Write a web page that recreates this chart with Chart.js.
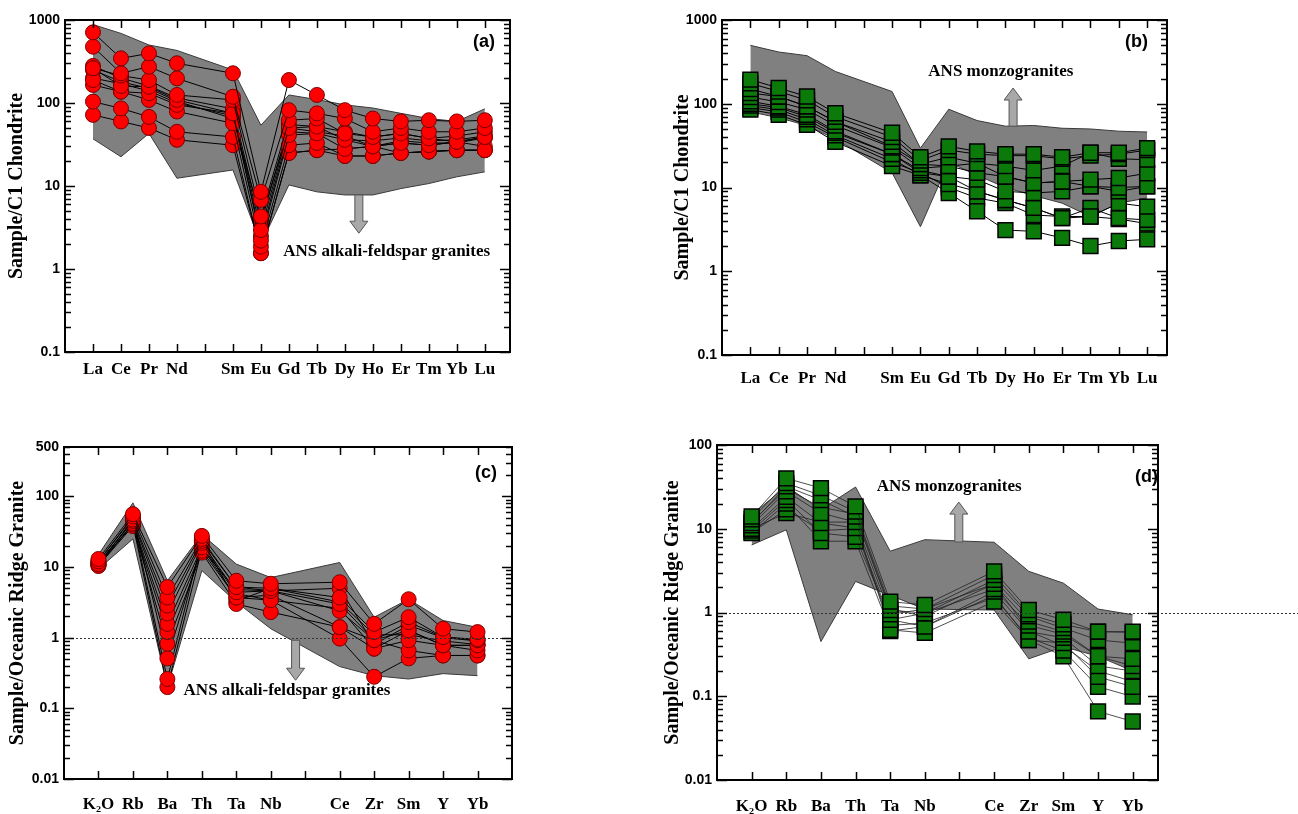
<!DOCTYPE html>
<html>
<head>
<meta charset="utf-8">
<script src="https://cdn.jsdelivr.net/npm/chart.js@4.4.1/dist/chart.umd.min.js"></script>
<style>
  body { margin: 0; background: #fff; width: 1298px; height: 814px; position: relative; overflow: hidden; }
  canvas { position: absolute; }
</style>
</head>
<body>
<canvas id="chartA" width="520" height="400" style="left:0;top:0"></canvas>
<canvas id="chartB" width="530" height="400" style="left:650px;top:0"></canvas>
<canvas id="chartC" width="525" height="404" style="left:0;top:410px"></canvas>
<canvas id="chartD" width="648" height="404" style="left:650px;top:410px"></canvas>
<script>
// x categories (blank slot = Pm / gap in the spider diagram)
const reeLabels = ['La', 'Ce', 'Pr', 'Nd', '', 'Sm', 'Eu', 'Gd', 'Tb', 'Dy', 'Ho', 'Er', 'Tm', 'Yb', 'Lu'];
const reeX = [0, 1, 2, 3, 5, 6, 7, 8, 9, 10, 11, 12, 13, 14];
const orgLabels = ['K₂O', 'Rb', 'Ba', 'Th', 'Ta', 'Nb', '', 'Ce', 'Zr', 'Sm', 'Y', 'Yb'];
const orgX = [0, 1, 2, 3, 4, 5, 7, 8, 9, 10, 11];

// y tick labels
const reeYTicks = [0.1, 1, 10, 100, 1000];
const orgYTicksC = [0.01, 0.1, 1, 10, 100, 500];
const orgYTicksD = [0.01, 0.1, 1, 10, 100];

// (a) alkali-feldspar granites, chondrite normalised
const alkaliReeUpper = [880, 690, 500, 430, 250, 54, 125, 110, 95, 87, 75, 65, 60, 85];
const alkaliReeLower = [37, 22.5, 43, 12.4, 15.6, 2.0, 10.3, 8.5, 7.8, 7.8, 9.3, 10.7, 12.9, 14.8];
const alkaliReeSamples = [
  [710, 345, 396, 301, 228, 8.5, 189, 125, 82, 65, 60, 62, 60, 62],
  [477, 228, 274, 198, 119, 6.8, 82, 75, 65, 45, 50, 45, 45, 50],
  [262, 214, 189, 125, 109, 4.3, 62, 65, 43, 39, 43, 37.5, 34, 39],
  [262, 160, 157, 109, 75, 2.95, 50, 52, 36, 30, 33, 31, 34, 39],
  [189, 137, 131, 95, 75, 2.2, 41, 43, 28, 30, 25, 26, 27, 27],
  [165, 137, 109, 79, 57, 1.86, 31, 33, 23, 23, 25, 26, 27, 27],
  [104, 86, 68, 45, 39, 1.55, 25, 27, 23, 23, 25, 26, 27, 27],
  [72, 60, 50, 36, 31, 1.55, 25, 27, 28, 30, 33, 31, 34, 30],
  [280, 200, 160, 115, 85, 3.5, 55, 52, 45, 39, 43, 37.5, 40, 45],
  [200, 170, 140, 100, 70, 2.5, 45, 43, 36, 35, 38, 35, 36, 40],
  [250, 180, 150, 105, 65, 4.0, 50, 45, 40, 30, 35, 33, 33, 38]
];

// (b) monzogranites, chondrite normalised
const monzoReeUpper = [498, 415, 375, 243, 140, 29.5, 86, 63, 54, 55, 51, 50, 47, 46];
const monzoReeLower = [80, 68, 55, 38, 15, 3.4, 20, 14, 10, 8, 6.5, 4.5, 6.5, 7.5];
const monzoReeSamples = [
  [194, 154, 122, 77, 45, 23, 31, 27, 25, 25, 23, 26, 26, 29.5],
  [175, 140, 110, 70, 40, 21, 28, 25, 24, 24, 22, 24, 25, 28],
  [150, 122, 93, 61, 35, 19, 23, 19.5, 18, 16, 18, 26, 22, 21.5],
  [134, 122, 93, 61, 31, 19, 18, 19.5, 13.5, 11.3, 11.8, 12.4, 13, 14.8],
  [120, 105, 85, 55, 30, 17, 18, 15, 13.5, 11.3, 11.8, 10.3, 10, 10.3],
  [107, 93, 74, 47, 25, 16, 13.5, 12.4, 9, 8.6, 9, 10.3, 9, 10.3],
  [100, 90, 70, 45, 25, 15, 13.5, 9, 7.1, 5.7, 4.3, 4.5, 6.5, 5.9],
  [95, 85, 65, 42, 22, 14, 11, 9, 7.1, 5.7, 4.3, 5.7, 4.3, 4.1],
  [85, 74, 56, 35, 18, 14, 8.6, 5.2, 3.1, 3.0, 2.5, 2.0, 2.3, 2.4],
  [90, 80, 60, 40, 20, 15, 10, 7.5, 6.5, 4.7, 4.5, 4.5, 4.2, 3.7]
];

// (c) alkali-feldspar granites, ORG normalised
const alkaliOrgUpper = [15, 81, 6.4, 29, 11, 7.1, 11.6, 1.95, 3.5, 1.75, 1.4];
const alkaliOrgLower = [9.4, 25, 0.2, 8.9, 3.2, 1.34, 0.39, 0.29, 0.26, 0.31, 0.29];
const alkaliOrgSamples = [
  [13, 56, 5.2, 27.6, 6.4, 5.8, 6.1, 1.57, 3.5, 1.34, 1.2],
  [12, 52, 3.7, 25, 5.2, 5.0, 3.7, 1.2, 1.95, 1.02, 0.95],
  [11, 47, 2.85, 23.5, 5.2, 4.6, 3.0, 0.92, 1.66, 1.02, 0.92],
  [11, 45, 2.2, 22, 4.4, 4.6, 2.4, 0.92, 1.27, 0.78, 0.78],
  [10.4, 42, 1.57, 19, 3.7, 3.4, 2.6, 0.7, 1.27, 0.78, 0.78],
  [11, 40, 1.2, 17, 3.7, 4.0, 1.41, 0.7, 0.92, 0.78, 0.66],
  [10.4, 38, 0.82, 16, 3.0, 2.3, 1.41, 0.92, 0.66, 0.56, 0.56],
  [12, 50, 0.51, 20, 4.2, 3.4, 0.97, 0.28, 0.51, 0.56, 0.56],
  [11.5, 44, 0.26, 24, 3.3, 5.0, 3.2, 1.1, 1.1, 0.9, 0.8],
  [10.8, 40, 0.2, 18, 4.8, 4.6, 5.0, 0.8, 1.5, 1.0, 0.9]
];

// (d) monzogranites, ORG normalised
const monzoOrgUpper = [14.7, 32, 17, 31.5, 5.4, 7.4, 6.9, 3.1, 2.24, 1.1, 0.94];
const monzoOrgLower = [6.4, 9.7, 0.45, 2.35, 1.6, 1.1, 1.07, 0.28, 0.39, 0.3, 0.2];
const monzoOrgSamples = [
  [14, 40, 30.6, 18.5, 1.35, 1.23, 3.1, 1.07, 0.82, 0.59, 0.59],
  [13, 35, 25, 16, 1.2, 1.1, 2.8, 0.95, 0.72, 0.59, 0.58],
  [11.7, 32, 22, 14, 1.07, 0.98, 2.45, 0.9, 0.65, 0.47, 0.43],
  [11, 28, 15.4, 12, 0.95, 1.1, 2.2, 0.78, 0.59, 0.3, 0.28],
  [10, 24, 11.7, 10.2, 0.82, 0.98, 1.9, 0.7, 0.55, 0.3, 0.23],
  [9.5, 22, 8.9, 8, 0.82, 0.68, 1.78, 0.59, 0.5, 0.23, 0.2],
  [8.9, 20, 7.1, 7.1, 0.62, 0.57, 1.35, 0.47, 0.43, 0.17, 0.13],
  [9, 17, 9.5, 10, 0.7, 0.75, 1.5, 0.5, 0.35, 0.13, 0.099],
  [10, 15.4, 12, 12, 0.6, 0.68, 1.6, 0.47, 0.3, 0.066, 0.05],
  [12, 30, 18, 15, 1.1, 0.9, 2.2, 0.6, 0.4, 0.2, 0.15]
];

Chart.defaults.font.family = '"Liberation Sans", Arial, sans-serif';

function logTicks(min, max) {
  const out = [];
  for (let e = Math.floor(Math.log10(min)); e <= Math.ceil(Math.log10(max)); e++) {
    for (let m = 1; m < 10; m++) {
      const v = Number((m * Math.pow(10, e)).toPrecision(2));
      if (v >= min * 0.999 && v <= max * 1.001) out.push(v);
    }
  }
  return out;
}
const isPow10 = v => Math.abs(Math.log10(v) - Math.round(Math.log10(v))) < 1e-9;

// frame + inward tick marks
const frameTicks = {
  id: 'frameTicks',
  afterDraw(chart) {
    const { ctx, chartArea: a, scales: { x, y } } = chart;
    ctx.save();
    ctx.strokeStyle = '#000';
    ctx.lineWidth = 1.5;
    ctx.beginPath();
    x.ticks.forEach(t => {
      const px = Math.round(x.getPixelForValue(t.value)) + 0.5;
      ctx.moveTo(px, a.bottom); ctx.lineTo(px, a.bottom - 8);
      ctx.moveTo(px, a.top); ctx.lineTo(px, a.top + 8);
    });
    y.ticks.forEach(t => {
      const py = Math.round(y.getPixelForValue(t.value)) + 0.5;
      const len = isPow10(t.value) ? 10 : 6;
      ctx.moveTo(a.left, py); ctx.lineTo(a.left + len, py);
      ctx.moveTo(a.right, py); ctx.lineTo(a.right - len, py);
    });
    ctx.stroke();
    ctx.lineWidth = 2;
    ctx.strokeRect(a.left, a.top, a.width, a.height);
    ctx.restore();
  }
};

function drawArrow(ctx, cx, yBase, yTip) {
  const dir = Math.sign(yTip - yBase);
  const head = 12, shaft = 4, half = 9;
  const yh = yTip - dir * head;
  ctx.beginPath();
  ctx.moveTo(cx - shaft, yBase);
  ctx.lineTo(cx - shaft, yh);
  ctx.lineTo(cx - half, yh);
  ctx.lineTo(cx, yTip);
  ctx.lineTo(cx + half, yh);
  ctx.lineTo(cx + shaft, yh);
  ctx.lineTo(cx + shaft, yBase);
  ctx.closePath();
  ctx.fillStyle = '#a8a8a8';
  ctx.fill();
  ctx.strokeStyle = '#555';
  ctx.lineWidth = 1;
  ctx.stroke();
}

// field label, arrow, panel tag and reference line
const notes = {
  id: 'notes',
  afterDatasetsDraw(chart, args, o) {
    const { ctx, chartArea: a, scales: { x, y } } = chart;
    ctx.save();
    if (o.refLine) {
      const py = Math.round(y.getPixelForValue(1)) + 0.5;
      ctx.strokeStyle = '#333';
      ctx.lineWidth = 1;
      ctx.setLineDash([2, 2]);
      ctx.beginPath();
      ctx.moveTo(a.left, py);
      ctx.lineTo(o.refLine === 'canvas' ? chart.width : a.right, py);
      ctx.stroke();
      ctx.setLineDash([]);
    }
    drawArrow(ctx, x.getPixelForValue(o.arrow[0]), y.getPixelForValue(o.arrow[1]), y.getPixelForValue(o.arrow[2]));
    ctx.fillStyle = '#000';
    ctx.font = 'bold 17px "Liberation Serif", "Times New Roman", serif';
    ctx.textAlign = 'left';
    ctx.textBaseline = 'middle';
    ctx.fillText(o.note, x.getPixelForValue(o.noteAt[0]), y.getPixelForValue(o.noteAt[1]));
    ctx.font = 'bold 18px "Liberation Sans", Arial, sans-serif';
    ctx.textAlign = 'right';
    ctx.fillText(o.tag, a.right - o.tagAt[0], a.top + o.tagAt[1]);
    ctx.restore();
  }
};

Chart.register(frameTicks, notes);

function buildChart(id, o) {
  const toPts = (vals) => vals.map((v, i) => ({ x: o.xs[i], y: v }));
  const datasets = o.samples.map(vals => ({
    data: toPts(vals),
    borderColor: o.lineColor,
    borderWidth: o.lineWidth,
    tension: 0,
    fill: false,
    pointStyle: o.marker.style,
    pointRadius: o.marker.radius,
    pointBackgroundColor: o.marker.fill,
    pointBorderColor: o.marker.edge,
    pointBorderWidth: o.marker.edgeWidth
  }));
  datasets.push({ data: toPts(o.upper), borderColor: '#3a3a3a', borderWidth: 1, pointRadius: 0, fill: false });
  datasets.push({ data: toPts(o.lower), borderColor: '#3a3a3a', borderWidth: 1, pointRadius: 0, fill: '-1', backgroundColor: '#808080' });

  return new Chart(document.getElementById(id), {
    type: 'line',
    data: { datasets },
    options: {
      responsive: false,
      animation: false,
      devicePixelRatio: 1,
      events: [],
      layout: { padding: o.padding },
      plugins: {
        legend: { display: false },
        tooltip: { enabled: false },
        notes: o.notes
      },
      scales: {
        x: {
          type: 'linear',
          min: -1,
          max: o.xMax,
          afterBuildTicks: ax => { ax.ticks = o.labels.map((_, i) => ({ value: i })); },
          afterFit: ax => { ax.height = o.xHeight; },
          grid: { display: false, drawTicks: false },
          border: { display: false },
          ticks: {
            autoSkip: false,
            maxRotation: 0,
            padding: o.xPad,
            color: '#000',
            font: { family: '"Liberation Serif", "Times New Roman", serif', weight: 'bold', size: 17 },
            callback: v => o.labels[v] ?? ''
          }
        },
        y: {
          type: 'logarithmic',
          min: o.yMin,
          max: o.yMax,
          afterBuildTicks: ax => { ax.ticks = logTicks(o.yMin, o.yMax).map(v => ({ value: v })); },
          afterFit: ax => { ax.width = o.yWidth; },
          grid: { display: false, drawTicks: false },
          border: { display: false },
          ticks: {
            autoSkip: false,
            padding: 5,
            color: '#000',
            font: { weight: 'bold', size: 14 },
            callback: v => o.yLabels.includes(v) ? String(v) : ''
          },
          title: {
            display: true,
            text: o.yTitle,
            color: '#000',
            padding: { top: o.titlePad, bottom: 0 },
            font: { family: '"Liberation Serif", "Times New Roman", serif', weight: 'bold', size: 20 }
          }
        }
      }
    }
  });
}

const redCircle = { style: 'circle', radius: 7.5, fill: '#ff0000', edge: '#7a0000', edgeWidth: 1 };
const greenSquare = { style: 'rect', radius: 10.5, fill: '#0b7a0b', edge: '#000', edgeWidth: 1.5 };

buildChart('chartA', {
  labels: reeLabels, xs: reeX, xMax: 14.9, yMin: 0.1, yMax: 1000, yLabels: reeYTicks,
  samples: alkaliReeSamples, upper: alkaliReeUpper, lower: alkaliReeLower,
  marker: redCircle, lineColor: '#000', lineWidth: 1,
  padding: { top: 20, right: 10, left: 0, bottom: 0 }, yWidth: 65, xHeight: 48, xPad: 7, titlePad: 5,
  yTitle: 'Sample/C1 Chondrite',
  notes: { note: 'ANS alkali-feldspar granites', noteAt: [6.8, 1.6], arrow: [9.5, 7.8, 2.7], tag: '(a)', tagAt: [15, 22] }
});

buildChart('chartB', {
  labels: reeLabels, xs: reeX, xMax: 14.7, yMin: 0.1, yMax: 1000, yLabels: reeYTicks,
  samples: monzoReeSamples, upper: monzoReeUpper, lower: monzoReeLower,
  marker: greenSquare, lineColor: '#000', lineWidth: 1,
  padding: { top: 20, right: 13, left: 0, bottom: 0 }, yWidth: 72, xHeight: 45, xPad: 13, titlePad: 21,
  yTitle: 'Sample/C1 Chondrite',
  notes: { note: 'ANS monzogranites', noteAt: [6.28, 239], arrow: [9.27, 54, 154], tag: '(b)', tagAt: [19, 22] }
});

buildChart('chartC', {
  labels: orgLabels, xs: orgX, xMax: 12, yMin: 0.01, yMax: 500, yLabels: orgYTicksC,
  samples: alkaliOrgSamples, upper: alkaliOrgUpper, lower: alkaliOrgLower,
  marker: redCircle, lineColor: '#000', lineWidth: 1,
  padding: { top: 37, right: 13, left: 0, bottom: 0 }, yWidth: 64, xHeight: 35, xPad: 15, titlePad: 6,
  yTitle: 'Sample/Oceanic Ridge Granite',
  notes: { note: 'ANS alkali-feldspar granites', noteAt: [2.47, 0.18], arrow: [5.72, 0.92, 0.25], tag: '(c)', tagAt: [15, 26], refLine: true }
});

buildChart('chartD', {
  labels: orgLabels, xs: orgX, xMax: 11.73, yMin: 0.01, yMax: 100, yLabels: orgYTicksD,
  samples: monzoOrgSamples, upper: monzoOrgUpper, lower: monzoOrgLower,
  marker: greenSquare, lineColor: '#222', lineWidth: 0.8,
  padding: { top: 35, right: 140, left: 0, bottom: 0 }, yWidth: 67, xHeight: 34, xPad: 16, titlePad: 11,
  yTitle: 'Sample/Oceanic Ridge Granite',
  notes: { note: 'ANS monzogranites', noteAt: [3.61, 31.6], arrow: [5.98, 6.95, 20.8], tag: '(d)', tagAt: [0, 32], refLine: 'canvas' }
});
</script>
</body>
</html>
